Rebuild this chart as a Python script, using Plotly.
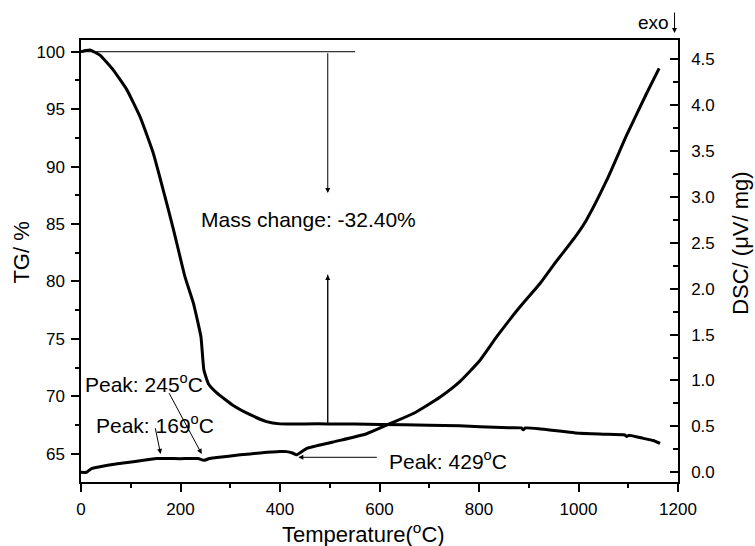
import plotly.graph_objects as go

# ---- data ----
tg_temp = [0, 10, 18, 38, 65, 92, 119, 145, 165, 186, 209, 226, 241, 247, 256, 273, 306, 340, 373,
           400, 450, 500, 550, 601, 700, 761, 802, 860, 885, 889, 893, 920, 1003, 1050, 1093, 1097, 1101,
           1130, 1150, 1164]
tg_vals = [100.0, 100.1, 100.15, 99.7, 98.4, 96.7, 94.3, 91.2, 88.0, 84.5, 80.4, 78.1, 75.2, 72.3,
           71.1, 70.3, 69.2, 68.4, 67.8, 67.6, 67.6, 67.6, 67.58, 67.55, 67.48, 67.44, 67.35, 67.27, 67.25,
           67.08, 67.24, 67.18, 66.78, 66.7, 66.63, 66.5, 66.6, 66.34, 66.15, 65.9]

dsc_temp = [0, 11, 21, 38, 70, 105, 152, 199, 235, 247, 258, 273, 320, 360, 400, 413, 425, 433, 445, 454,
            507, 574, 621, 668, 722, 762, 802, 836, 882, 923, 950, 996, 1016, 1057, 1097, 1137, 1162]
dsc_vals = [0.0, 0.0, 0.04, 0.06, 0.09, 0.115, 0.15, 0.148, 0.15, 0.13, 0.15, 0.16, 0.19, 0.21, 0.225,
            0.225, 0.21, 0.19, 0.23, 0.26, 0.33, 0.42, 0.53, 0.64, 0.82, 0.99, 1.22, 1.48, 1.80, 2.06, 2.26,
            2.585, 2.75, 3.185, 3.675, 4.13, 4.40]

mass_start, mass_end = 100.0, 67.6
mass_text = "Mass change: -32.40%"
peaks = [245, 169, 429]

FONT = "Liberation Sans, Arial, sans-serif"

fig = go.Figure()
fig.add_trace(go.Scatter(x=tg_temp, y=tg_vals, mode="lines",
                         line=dict(color="black", width=3, shape="spline", smoothing=0.4),
                         yaxis="y", showlegend=False))
fig.add_trace(go.Scatter(x=dsc_temp, y=dsc_vals, mode="lines",
                         line=dict(color="black", width=3, shape="spline", smoothing=0.5),
                         yaxis="y2", showlegend=False))
# reference line at 100 %
fig.add_trace(go.Scatter(x=[0, 551], y=[mass_start, mass_start], mode="lines",
                         line=dict(color="black", width=1), yaxis="y", showlegend=False))
# vertical connector at the mass-change level
fig.add_trace(go.Scatter(x=[496, 496], y=[mass_end, 80.6], mode="lines",
                         line=dict(color="black", width=1), yaxis="y", showlegend=False))

ann = []
af = dict(family=FONT, size=21, color="black")
# mass change arrows
ann.append(dict(x=496, y=87.7, xref="x", yref="y", ax=496, ay=mass_start, axref="x", ayref="y",
                text="", showarrow=True, arrowhead=2, arrowsize=1, arrowwidth=1, arrowcolor="black"))
ann.append(dict(x=496, y=80.56, xref="x", yref="y", ax=496, ay=mass_end, axref="x", ayref="y",
                text="", showarrow=True, arrowhead=2, arrowsize=1, arrowwidth=1, arrowcolor="black"))
ann.append(dict(x=237, y=85.35, xref="x", yref="y", text=mass_text, showarrow=False,
                xanchor="left", yanchor="middle", font=af))
# peak labels
ann.append(dict(x=4, y=0.97, xref="x", yref="y2", text=f"Peak: {peaks[0]}<sup>o</sup>C", showarrow=False,
                xanchor="left", yanchor="middle", font=af))
ann.append(dict(x=242.6, y=0.2, xref="x", yref="y2", ax=175.5, ay=0.878, axref="x", ayref="y2",
                text="", showarrow=True, arrowhead=2, arrowsize=1, arrowwidth=1, arrowcolor="black"))
ann.append(dict(x=26.7, y=0.53, xref="x", yref="y2", text=f"Peak: {peaks[1]}<sup>o</sup>C", showarrow=False,
                xanchor="left", yanchor="middle", font=af))
ann.append(dict(x=160, y=0.2, xref="x", yref="y2", ax=148.7, ay=0.497, axref="x", ayref="y2",
                text="", showarrow=True, arrowhead=2, arrowsize=1, arrowwidth=1, arrowcolor="black"))
ann.append(dict(x=614.5, y=0.134, xref="x", yref="y2", text=f"Peak: {peaks[2]}<sup>o</sup>C", showarrow=False,
                xanchor="left", yanchor="middle", font=af))
ann.append(dict(x=436.8, y=0.163, xref="x", yref="y2", ax=597.6, ay=0.163, axref="x", ayref="y2",
                text="", showarrow=True, arrowhead=2, arrowsize=1, arrowwidth=1, arrowcolor="black"))
# exo marker
ann.append(dict(x=1150, y=1.039, xref="x", yref="paper", text="exo", showarrow=False,
                xanchor="center", yanchor="middle", font=dict(family=FONT, size=19, color="black")))
ann.append(dict(x=1193, y=1.0158, xref="x", yref="paper", ax=0, ay=-22, text="", showarrow=True,
                arrowhead=2, arrowsize=1, arrowwidth=1, arrowcolor="black"))
# axis titles
tf = dict(family=FONT, size=22, color="black")
ann.append(dict(x=-0.0988, y=0.519, xref="paper", yref="paper", text="TG/ %", textangle=-90,
                showarrow=False, xanchor="center", yanchor="middle", font=tf))
ann.append(dict(x=1.1055, y=0.541, xref="paper", yref="paper", text="DSC/ (μV/ mg)", textangle=-90,
                showarrow=False, xanchor="center", yanchor="middle", font=tf))
ann.append(dict(x=0.4724, y=-0.115, xref="paper", yref="paper", text="Temperature(<sup>o</sup>C)",
                showarrow=False, xanchor="center", yanchor="middle", font=tf))

tickfont = dict(family=FONT, size=17, color="black")
fig.update_layout(
    width=755, height=546,
    margin=dict(l=81, r=77, t=40, b=64),
    paper_bgcolor="white", plot_bgcolor="white",
    showlegend=False,
    annotations=ann,
    xaxis=dict(range=[0, 1200], dtick=200, tick0=0, ticks="outside", ticklen=8, tickwidth=1.5,
               tickcolor="black", showline=True, linecolor="black", linewidth=1.5, mirror=True,
               showgrid=False, zeroline=False, tickfont=tickfont, ticklabelstandoff=3,
               minor=dict(dtick=100, ticks="outside", ticklen=4, tickwidth=1.5, tickcolor="black")),
    yaxis=dict(range=[62.54, 101.02], dtick=5, tick0=0, ticks="outside", ticklen=8, tickwidth=1.5,
               tickcolor="black", showline=True, linecolor="black", linewidth=1.5,
               showgrid=False, zeroline=False, tickfont=tickfont, ticklabelstandoff=3,
               minor=dict(dtick=2.5, ticks="outside", ticklen=4, tickwidth=1.5, tickcolor="black")),
    yaxis2=dict(range=[-0.106, 4.71], dtick=0.5, tick0=0, tickformat=".1f", overlaying="y", side="right",
                ticks="inside", ticklen=8, tickwidth=1.5, tickcolor="black", showline=True,
                linecolor="black", linewidth=1.5, showgrid=False, zeroline=False, tickfont=tickfont,
                ticklabelstandoff=8,
                minor=dict(dtick=0.25, ticks="inside", ticklen=5, tickwidth=1.5, tickcolor="black")),
)

fig.write_html("out.html", config={"displayModeBar": False},
               post_script="document.body.style.margin='0';")
